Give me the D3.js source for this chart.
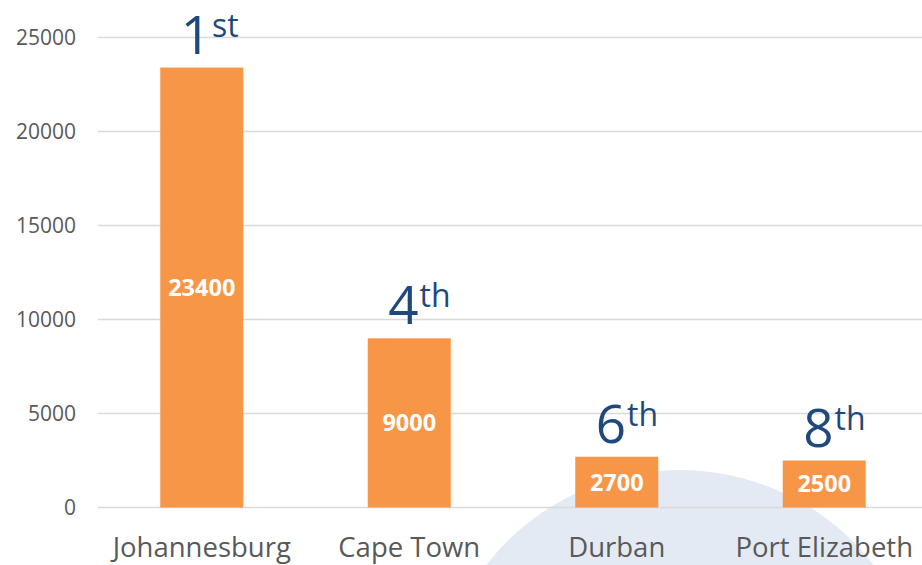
<!DOCTYPE html>
<html>
<head>
<meta charset="utf-8">
<script src="https://cdn.jsdelivr.net/npm/d3@7"></script>
<style>
  html, body { margin: 0; padding: 0; background: #ffffff; }
  svg { display: block; }
</style>
</head>
<body>
<svg id="chart" width="922" height="565"></svg>
<script>
const categories = ["Johannesburg", "Cape Town", "Durban", "Port Elizabeth"];
const values = [23400, 9000, 2700, 2500];
const rankNumbers = ["1", "4", "6", "8"];
const rankSuffixes = ["st", "th", "th", "th"];
const yTicks = [0, 5000, 10000, 15000, 20000, 25000];

const W = 922, H = 565;
const margin = { left: 98, right: -6, top: 37.5, bottom: 57.5 };
const svg = d3.select("#chart");

// Decorative light-blue arc in background
svg.append("circle")
  .attr("cx", 680).attr("cy", 715).attr("r", 245)
  .attr("fill", "#e3eaf4");

const x = d3.scaleBand()
  .domain(categories)
  .range([margin.left, W - margin.right])
  .paddingInner(0.6)
  .paddingOuter(0.3);

const y = d3.scaleLinear()
  .domain([0, 25000])
  .range([H - margin.bottom, margin.top]);

// Gridlines
svg.append("g")
  .selectAll("line")
  .data(yTicks)
  .join("line")
  .attr("x1", margin.left)
  .attr("x2", W)
  .attr("y1", d => y(d))
  .attr("y2", d => y(d))
  .attr("stroke", "#d9d9d9")
  .attr("stroke-width", 1.5);

// Y axis labels
const yAxis = d3.axisLeft(y).tickValues(yTicks).tickSize(0).tickPadding(0).tickFormat(d3.format("d"));
const gy = svg.append("g")
  .attr("transform", `translate(76,0)`)
  .call(yAxis);
gy.select(".domain").remove();
gy.selectAll("text")
  .attr("font-family", "'Open Sans', sans-serif")
  .attr("font-size", 21)
  .attr("fill", "#595959");

// Bars
svg.append("g")
  .selectAll("rect")
  .data(values)
  .join("rect")
  .attr("x", (d, i) => x(categories[i]))
  .attr("width", x.bandwidth())
  .attr("y", d => y(d))
  .attr("height", d => y(0) - y(d))
  .attr("fill", "#f79646");

// Value labels
svg.append("g")
  .selectAll("text")
  .data(values)
  .join("text")
  .attr("x", (d, i) => x(categories[i]) + x.bandwidth() / 2)
  .attr("y", d => (y(d) + y(0)) / 2)
  .attr("dy", "0.36em")
  .attr("text-anchor", "middle")
  .attr("font-family", "'Open Sans', sans-serif")
  .attr("font-weight", "bold")
  .attr("font-size", 23.5)
  .attr("fill", "#ffffff")
  .text(d => d);

// Rank labels
const ranks = svg.append("g")
  .selectAll("text")
  .data(values)
  .join("text")
  .attr("x", (d, i) => x(categories[i]) + x.bandwidth() / 2 - 21)
  .attr("y", d => y(d) - 14)
  .attr("font-family", "'Open Sans', sans-serif")
  .attr("fill", "#1f497d");
ranks.append("tspan")
  .attr("font-size", 53)
  .text((d, i) => rankNumbers[i]);
ranks.append("tspan")
  .attr("font-size", 32)
  .attr("dx", 1)
  .attr("dy", -17)
  .text((d, i) => rankSuffixes[i]);

// Category labels
svg.append("g")
  .selectAll("text")
  .data(categories)
  .join("text")
  .attr("x", d => x(d) + x.bandwidth() / 2)
  .attr("y", 557)
  .attr("text-anchor", "middle")
  .attr("font-family", "'Open Sans', sans-serif")
  .attr("font-size", 27.5)
  .attr("fill", "#595959")
  .text(d => d);
</script>
</body>
</html>
